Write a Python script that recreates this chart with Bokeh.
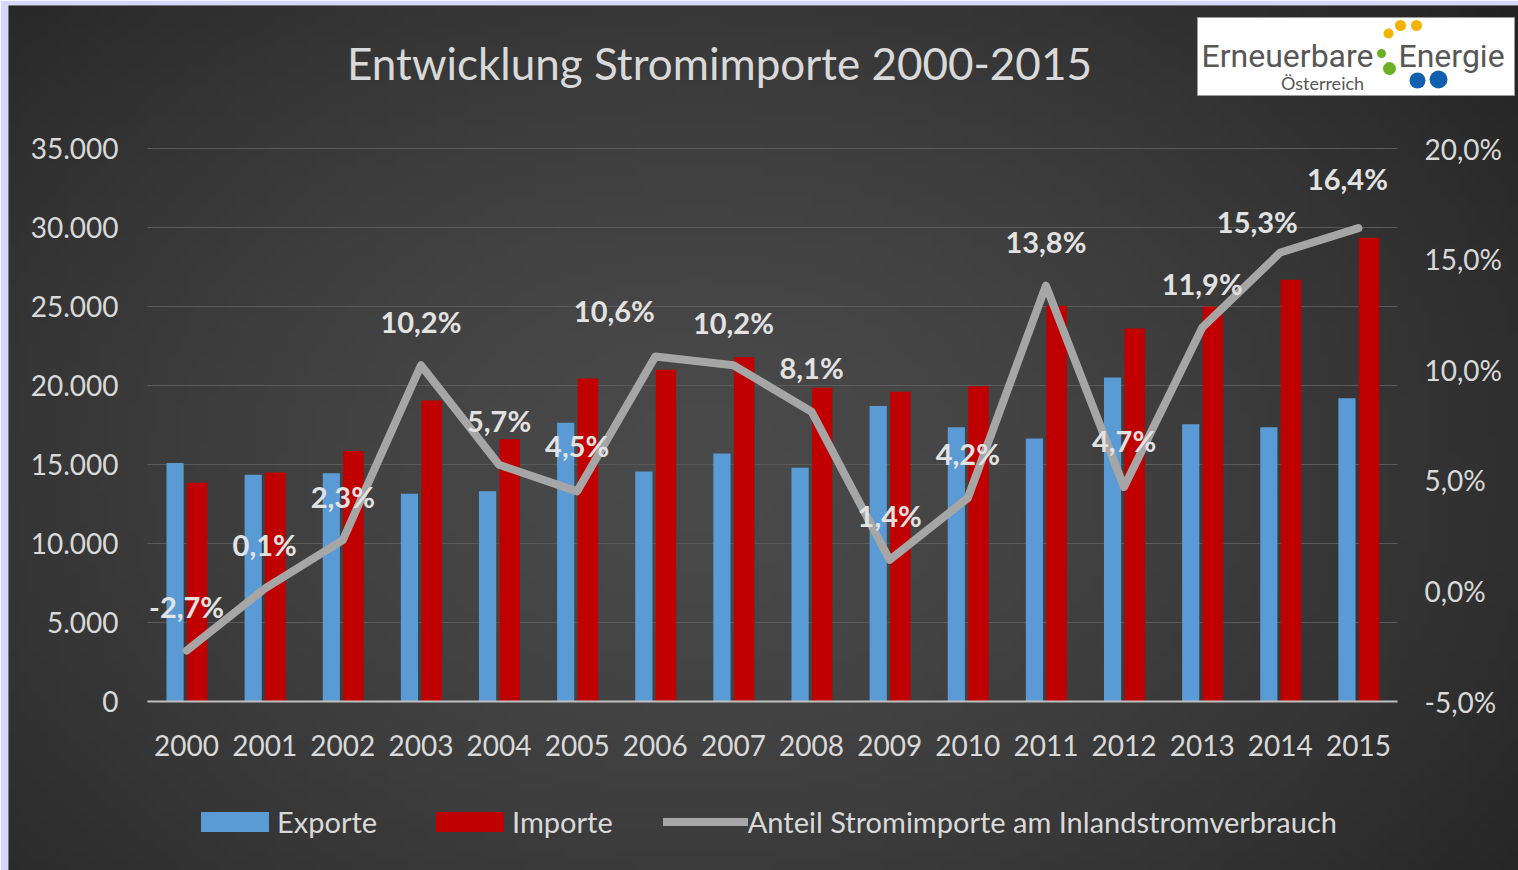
import numpy as np
from bokeh.plotting import figure
from bokeh.models import (Range1d, LinearAxis, Legend, LegendItem, ColumnDataSource, FixedTicker)
from bokeh.transform import dodge
from bokeh.core.properties import value
from bokeh.embed import file_html
from bokeh.resources import INLINE

# ---------------- data ----------------
years = list(range(2000, 2016))
exporte = [15100, 14350, 14450, 13150, 13300, 17650, 14550, 15700,
           14800, 18700, 17350, 16650, 20500, 17550, 17350, 19200]
importe = [13850, 14500, 15850, 19050, 16600, 20450, 21000, 21800,
           19850, 19600, 19950, 25050, 23600, 25000, 26700, 29350]
anteil = [-2.7, 0.1, 2.3, 10.2, 5.7, 4.5, 10.6, 10.2,
          8.1, 1.4, 4.2, 13.8, 4.7, 11.9, 15.3, 16.4]
left_ticks = [0, 5000, 10000, 15000, 20000, 25000, 30000, 35000]
left_tick_labels = ["0", "5.000", "10.000", "15.000", "20.000", "25.000", "30.000", "35.000"]
right_ticks = [-5, 0, 5, 10, 15, 20]
right_tick_labels = ["-5,0%", "0,0%", "5,0%", "10,0%", "15,0%", "20,0%"]

title_text = "Entwicklung Stromimporte 2000-2015"
legend_labels = ["Exporte", "Importe", "Anteil Stromimporte am Inlandstromverbrauch"]
logo_words = ["Erneuerbare", "Energie", "Österreich"]

# label nudges in pixels (style only)
label_dx = [0, 0, 0, 0, 0, 0, -41, 0, 0, 0, 0, 0, 0, 0, -23, -11]
label_dy = [-44, -44, -44, -44, -44, -46, -46, -43, -44, -44, -44, -44, -46, -44, -31, -50]

# ---------------- styles ----------------
PAGE = "#d7d7fd"
TXT = "#d9d9d9"
FONT = "Lato"
BLUE = "#5b9bd5"
RED = "#c00000"
GRAY = "#a6a6a6"

W, H = 1518, 870
FL, FR, FT, FB = 147, 1397, 148, 701          # plot area in page pixels
LEFT_PAD, TOP_PAD = 8, 5                       # page strip
x_lo, x_hi = years[0] - 0.5, years[-1] + 0.5
y_lo, y_hi = 0, 35000
p_lo, p_hi = -5, 20

def X(px):   # page px -> year axis
    return x_lo + (px - FL) / (FR - FL) * (x_hi - x_lo)
def Y(py):   # page px -> left value axis
    return y_lo + (FB - py) / (FB - FT) * (y_hi - y_lo)
def P(py):   # page px -> right percent axis
    return p_lo + (FB - py) / (FB - FT) * (p_hi - p_lo)

source = ColumnDataSource(dict(
    year=years, exporte=exporte, importe=importe, anteil=anteil,
    label=[("%.1f%%" % v).replace(".", ",") for v in anteil],
    dx=label_dx, dy=label_dy,
))

p = figure(width=W, height=H, title=None, output_backend="svg", toolbar_location=None,
           x_range=Range1d(X(LEFT_PAD), X(W)), y_range=Range1d(Y(H), Y(TOP_PAD)),
           min_border_left=LEFT_PAD, min_border_top=TOP_PAD, min_border_right=0, min_border_bottom=0)
p.border_fill_color = PAGE
p.background_fill_color = "#383838"
p.outline_line_color = None
p.extra_y_ranges = {"pct": Range1d(P(H), P(TOP_PAD))}
p.xgrid.visible = False
p.ygrid.visible = False

# soft radial background
nx, ny = 152, 87
gx, gy = np.meshgrid(np.linspace(LEFT_PAD, W, nx), np.linspace(TOP_PAD, H, ny))
d = np.sqrt(((gx - 700) / 880) ** 2 + ((gy - 470) / 640) ** 2)
v = np.clip(74 - 30 * np.clip(d, 0, 1.25) ** 1.5, 0, 255).astype(np.uint32)
img = (255 << 24) | (v << 16) | (v << 8) | v
p.image_rgba(image=[img[::-1]], x=X(LEFT_PAD), y=Y(H), dw=X(W) - X(LEFT_PAD), dh=Y(TOP_PAD) - Y(H))

# grid lines across plot area only
p.segment(x0=x_lo, x1=x_hi, y0=left_ticks, y1=left_ticks, line_color="#5a5a5a", line_width=1)

b1 = p.vbar(x=dodge("year", -0.147), top="exporte", width=0.22,
            source=source, fill_color=BLUE, line_color=None)
b2 = p.vbar(x=dodge("year", 0.137), top="importe", width=0.262,
            source=source, fill_color=RED, line_color=None)
ln = p.line(x="year", y="anteil", source=source, y_range_name="pct",
            line_color=GRAY, line_width=8, line_join="round", line_cap="round")
p.text(x="year", y="anteil", text="label", source=source, y_range_name="pct",
       x_offset="dx", y_offset="dy", text_align="center", text_baseline="middle",
       text_font=value(FONT), text_font_size="29px", text_font_style="bold", text_color="#e2e2e2")

# axes at fixed positions around the plot area
xa = p.xaxis[0]
xa.fixed_location = y_lo
xa.bounds = (x_lo, x_hi)
xa.ticker = FixedTicker(ticks=years)
xa.major_label_overrides = {y: str(y) for y in years}
xa.axis_line_color = "#bfbfbf"
xa.axis_line_width = 2
xa.major_tick_line_color = None
xa.minor_tick_line_color = None
xa.major_label_text_color = TXT
xa.major_label_text_font = FONT
xa.major_label_text_font_size = "28px"
xa.major_label_standoff = 27

ya = p.yaxis[0]
ya.fixed_location = x_lo
ya.bounds = (y_lo, y_hi)
ya.ticker = FixedTicker(ticks=left_ticks)
ya.major_label_overrides = {t: s for t, s in zip(left_ticks, left_tick_labels)}
ya.axis_line_color = None
ya.major_tick_line_color = None
ya.minor_tick_line_color = None
ya.major_label_text_color = TXT
ya.major_label_text_font = FONT
ya.major_label_text_font_size = "28px"
ya.major_label_standoff = 23

ra = LinearAxis(y_range_name="pct", fixed_location=x_hi, bounds=(p_lo, p_hi),
                ticker=FixedTicker(ticks=right_ticks),
                major_label_overrides={t: s for t, s in zip(right_ticks, right_tick_labels)},
                axis_line_color=None, major_tick_line_color=None, minor_tick_line_color=None,
                major_label_text_color=TXT, major_label_text_font=FONT,
                major_label_text_font_size="28px", major_label_standoff=21)
p.add_layout(ra, "right")

# legend below the chart
legend = Legend(items=[LegendItem(label=legend_labels[0], renderers=[b1]),
                       LegendItem(label=legend_labels[1], renderers=[b2]),
                       LegendItem(label=legend_labels[2], renderers=[ln])],
                orientation="horizontal", location=(192 - LEFT_PAD, 31),
                glyph_width=85, glyph_height=25, label_standoff=0, spacing=50,
                padding=0, margin=0, border_line_color=None, background_fill_alpha=0,
                label_text_color=TXT, label_text_font=FONT, label_text_font_size="29px")
p.add_layout(legend, "center")

# title
p.text(x=[X(719)], y=[Y(62)], text=[title_text], text_align="center", text_baseline="middle",
       text_font=value(FONT), text_font_size="44px", text_color=TXT)

# logo
p.quad(left=[X(1197)], right=[X(1514)], top=[Y(17)], bottom=[Y(95)], fill_color="white",
       line_color="#9a9a9a", line_width=1)
p.text(x=[X(1201), X(1398)], y=[Y(55), Y(55)], text=logo_words[:2], text_align="left",
       text_baseline="middle", text_font=value("Roboto"), text_font_size="32px", text_color="#575757")
p.text(x=[X(1322)], y=[Y(82)], text=logo_words[2:], text_align="center", text_baseline="middle",
       text_font=value(FONT), text_font_size="18px", text_color="#575757")
p.scatter(x=[X(1388), X(1400), X(1416), X(1381), X(1389), X(1417), X(1438)],
          y=[Y(33), Y(25), Y(25), Y(53), Y(68), Y(80), Y(79)],
          size=[10, 11, 11, 9, 13, 16, 18],
          color=["#f2b300", "#f2b300", "#f2b300", "#6ab023", "#6ab023", "#1060b0", "#1060b0"],
          line_color=None)

open("out.html", "w").write(file_html(p, INLINE))
